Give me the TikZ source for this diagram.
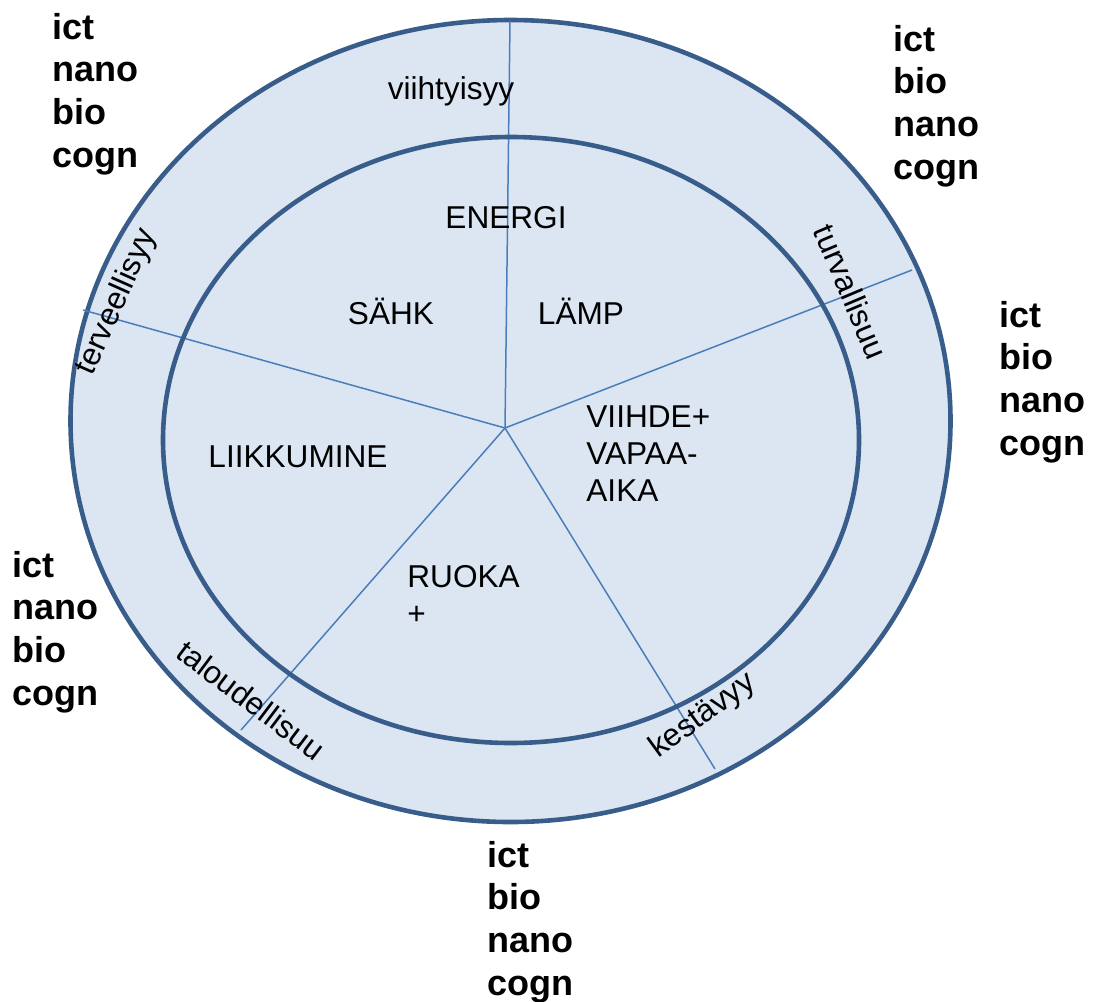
\documentclass[tikz,border=0pt]{standalone}
\usepackage{fontspec}
\setmainfont{Liberation Sans}
\usepackage{xcolor}
\usetikzlibrary{positioning}

\definecolor{ringfill}{RGB}{220,230,242}
\definecolor{ringline}{RGB}{56,93,138}
\definecolor{spokeline}{RGB}{74,126,187}

\begin{document}
\begin{tikzpicture}[
  x=0.5pt, y=-0.5pt,
  ring/.style={draw=ringline, line width=2.3pt},
  spoke/.style={draw=spokeline, line width=0.75pt},
  field/.style={inner sep=0pt, font=\fontsize{15.8}{18.5}\selectfont},
  value/.style={inner sep=0pt, font=\fontsize{15.8}{18.5}\selectfont},
  tech/.style={inner sep=0pt, anchor=west, align=left, font=\fontsize{18}{21.3}\selectfont\bfseries}
]
  \useasboundingbox (0,0) rectangle (1095,1001);

  % outer ring and inner circle
  \filldraw[ring, fill=ringfill] (510.5,421) ellipse [x radius=220pt, y radius=200.5pt];
  \coordinate (hub) at (505,428);
  \coordinate (endtop) at (510,21);
  \coordinate (endright) at (912,270);
  \coordinate (endbr) at (715,769);
  \coordinate (endbl) at (241,730);
  \coordinate (endleft) at (83,310);
  \foreach \e in {endtop, endright, endbr, endbl, endleft}
    \draw[spoke] (hub) -- (\e);
  \draw[ring] (511,440) ellipse [x radius=174pt, y radius=151.5pt];

  % fields
  \node[field] (energi) at (506,218) {ENERGI};
  \node[field] (sahk) at (391,311) {SÄHK};
  \node[field] (lamp) at (581,311) {LÄMP};
  \node[field] (liikk) at (298,457) {LIIKKUMINE};
  \node[field, anchor=north west, align=left] (viihde) at (586,405) {VIIHDE+\\VAPAA-\\AIKA};
  \node[field, anchor=north west, align=left] (ruoka) at (407,565) {RUOKA\\+};

  % values on the ring
  \node[value] (viiht) at (451,91) {viihtyisyy};
  \node[value, rotate=66] (terv) at (117,302) {terveellisyy};
  \node[value, rotate=-67] (turv) at (851,292) {turvallisuu};
  \node[value, rotate=-37] (talous) at (251,700) {taloudellisuu};
  \node[value, rotate=36] (kest) at (703,716) {kestävyy};

  % technologies
  \node[tech] (techtl) at (52,94) {ict\\nano\\bio\\cogn};
  \node[tech] (techtr) at (893,106) {ict\\bio\\nano\\cogn};
  \node[tech] (techr) at (999,382) {ict\\bio\\nano\\cogn};
  \node[tech] (techl) at (12,632) {ict\\nano\\bio\\cogn};
  \node[tech] (techb) at (487,922) {ict\\bio\\nano\\cogn};
\end{tikzpicture}
\end{document}
